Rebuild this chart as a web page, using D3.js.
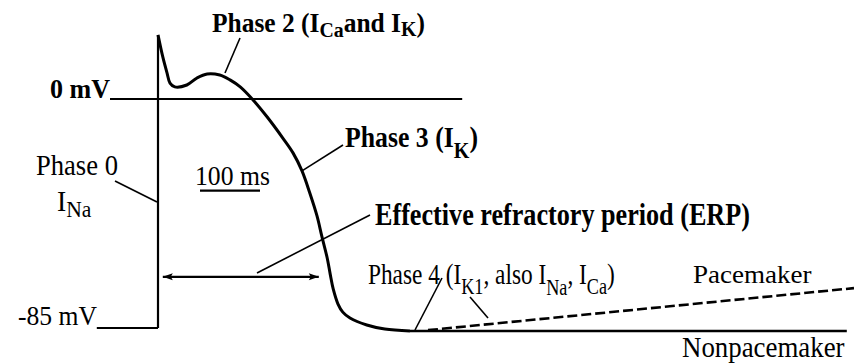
<!DOCTYPE html>
<html>
<head>
<meta charset="utf-8">
<script src="https://cdn.jsdelivr.net/npm/d3@7"></script>
<style>
    body { margin: 0; background: #fff; }
    svg { display: block; }
</style>
</head>
<body>
<div id="chart-container"></div>
<script>
// canvas
const svgWidth = 854,
    svgHeight = 364;

// action potential trace (time in ms after upstroke, membrane potential in mV)
const timeMs = [0, 8, 15, 20, 28, 48, 65, 82, 103, 120, 137, 157, 182, 208, 225, 240, 253, 265, 273, 282, 287, 292, 300, 308, 320, 348, 378, 420];
const voltageMv = [23.8, 15.6, 9.7, 5.9, 4.5, 5.2, 7.8, 9.3, 8.9, 7.1, 4.5, 0, -6.7, -14.5, -20.0, -26.7, -34.9, -43.4, -50.9, -59.0, -65.0, -70.5, -76.1, -79.1, -81.3, -83.9, -85.4, -86.1];

// phase 0 upstroke
const upstrokeMv = [-85, 23.8];

// phase 4 lines
const nonpacemakerTimeMs = [420, 1148];
const nonpacemakerMv = [-86.1, -86.1];
const pacemakerTimeMs = [450, 1160];
const pacemakerMv = [-85.8, -70.2];

// reference levels
const refLevelsMv = [0, -85];
const refLabels = ["0 mV", "-85 mV"];
const refStartMs = [-80, -102];
const refEndMs = [507, 0];

// effective refractory period and time scale bar
const erpMs = [8, 268];
const erpLevelMv = -66;
const scaleBarMs = [70, 170];
const scaleBarLabel = "100 ms";

// scales
let xScale = d3.scaleLinear()
    .domain([0, 1000])
    .range([158, 758]);
let yScale = d3.scaleLinear()
    .domain([-85, 0])
    .range([328, 99]);

let svg = d3.select("#chart-container").append("svg")
    .attr("width", svgWidth)
    .attr("height", svgHeight);

svg.append("rect")
    .attr("width", svgWidth)
    .attr("height", svgHeight)
    .attr("fill", "#fff");

// arrow heads for the ERP arrow
let defs = svg.append("defs");
["start", "end"].forEach((id) => {
    defs.append("marker")
        .attr("id", "arrow-" + id)
        .attr("viewBox", "0 0 10 8")
        .attr("refX", id == "end" ? 10 : 0)
        .attr("refY", 4)
        .attr("markerWidth", 11)
        .attr("markerHeight", 8)
        .attr("markerUnits", "userSpaceOnUse")
        .attr("orient", "auto")
        .append("path")
        .attr("d", id == "end" ? "M0,0.5L10,4L0,7.5L2,4Z" : "M10,0.5L0,4L10,7.5L8,4Z")
        .attr("fill", "#000");
});

let lineGen = d3.line()
    .x((d) => xScale(d[0]))
    .y((d) => yScale(d[1]));

// reference lines (0 mV and -85 mV)
refLevelsMv.forEach((lvl, i) => {
    svg.append("path")
        .attr("d", lineGen([[refStartMs[i], lvl], [refEndMs[i], lvl]]))
        .attr("stroke", "#000")
        .attr("stroke-width", 2.2)
        .attr("fill", "none");
});

// upstroke
svg.append("path")
    .attr("d", lineGen([[0, upstrokeMv[0]], [0, upstrokeMv[1]]]))
    .attr("stroke", "#000")
    .attr("stroke-width", 2.2)
    .attr("fill", "none");

// action potential
let apData = timeMs.map((t, i) => [t, voltageMv[i]]);
svg.append("path")
    .attr("d", lineGen.curve(d3.curveCatmullRom.alpha(0.5))(apData))
    .attr("stroke", "#000")
    .attr("stroke-width", 3)
    .attr("stroke-linejoin", "round")
    .attr("fill", "none");
lineGen.curve(d3.curveLinear);

// nonpacemaker resting line
svg.append("path")
    .attr("d", lineGen(nonpacemakerTimeMs.map((t, i) => [t, nonpacemakerMv[i]])))
    .attr("stroke", "#000")
    .attr("stroke-width", 2.6)
    .attr("fill", "none");

// pacemaker diastolic depolarization
svg.append("path")
    .attr("d", lineGen(pacemakerTimeMs.map((t, i) => [t, pacemakerMv[i]])))
    .attr("stroke", "#000")
    .attr("stroke-width", 2.6)
    .attr("stroke-dasharray", "10,4")
    .attr("fill", "none");

// ERP double arrow
svg.append("path")
    .attr("d", lineGen(erpMs.map((t) => [t, erpLevelMv])))
    .attr("stroke", "#000")
    .attr("stroke-width", 2.2)
    .attr("marker-start", "url(#arrow-start)")
    .attr("marker-end", "url(#arrow-end)")
    .attr("fill", "none");

// 100 ms scale bar
svg.append("path")
    .attr("d", lineGen(scaleBarMs.map((t) => [t, -34])))
    .attr("stroke", "#000")
    .attr("stroke-width", 2.2)
    .attr("fill", "none");

// leader lines: [x1, y1, x2, y2] in px
const leaders = [
    [240, 38, 225, 73],    // phase 2
    [343, 145, xScale(240), yScale(-26.7)], // phase 3
    [115, 181, 157, 202],  // phase 0
    [370, 215, 257, 273],  // ERP
    [442, 278, 415, 330],  // phase 4 (a)
    [470, 297, 488, 318]   // phase 4 (b)
];
svg.selectAll(".leader")
    .data(leaders)
    .join("line")
    .attr("class", "leader")
    .attr("x1", (d) => d[0])
    .attr("y1", (d) => d[1])
    .attr("x2", (d) => d[2])
    .attr("y2", (d) => d[3])
    .attr("stroke", "#000")
    .attr("stroke-width", 1.6);

// text labels; parts are [text, subscript shift in px]
function addLabel(parts, x, y, w, size, weight) {
    let t = svg.append("text")
        .attr("font-family", "'Liberation Serif', 'Times New Roman', serif")
        .attr("font-size", size)
        .attr("font-weight", weight)
        .attr("fill", "#000");
    let shift = 0;
    parts.forEach((p) => {
        let sub = p[1] || 0;
        t.append("tspan")
            .attr("dy", sub - shift)
            .attr("font-size", sub ? size * 0.78 : size)
            .text(p[0]);
        shift = sub;
    });
    // squeeze to the measured width
    let bb = t.node().getBBox();
    let s = w / bb.width;
    t.attr("transform", `translate(${x - bb.x * s},${y}) scale(${s},1)`);
}

addLabel([["Phase 2 (I"], ["Ca", 5], ["and I"], ["K", 4], [")"]], 212, 32, 213, 28, "bold");
addLabel([[refLabels[0]]], 50, 98, 60, 28, "bold");
addLabel([["Phase 0"]], 36, 175, 82, 30, "normal");
addLabel([["I"], ["Na", 6]], 57, 211, 35, 30, "normal");
addLabel([[scaleBarLabel]], 195, 185, 75, 28, "normal");
addLabel([["Phase 3 (I"], ["K", 11], [")"]], 345, 147, 133, 30, "bold");
addLabel([["Effective refractory period (ERP)"]], 375, 225, 375, 32, "bold");
addLabel([["Phase 4 (I"], ["K1", 10], [", also I"], ["Na", 11], [", I"], ["Ca", 10], [")"]], 368, 284, 247, 29, "normal");
addLabel([[refLabels[1]]], 18, 325, 79, 28, "normal");
addLabel([["Pacemaker"]], 693, 283, 119, 26, "normal");
addLabel([["Nonpacemaker"]], 682, 357, 163, 29, "normal");
</script>
</body>
</html>
